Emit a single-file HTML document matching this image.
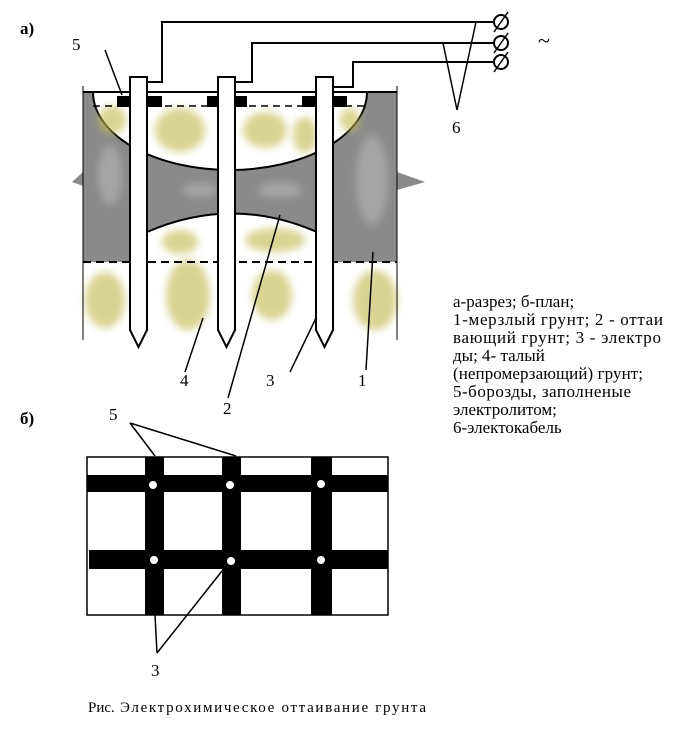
<!DOCTYPE html>
<html><head><meta charset="utf-8"><style>
body{margin:0;background:#fff;}
svg{display:block}
text{font-family:"Liberation Serif","DejaVu Serif",serif;fill:#000}
</style></head><body>
<svg width="695" height="734" viewBox="0 0 695 734" xmlns="http://www.w3.org/2000/svg">
<defs>
<filter id="bl" x="-50%" y="-50%" width="200%" height="200%"><feGaussianBlur stdDeviation="4"/></filter>
</defs>
<text x="20" y="34" font-size="17" font-weight="bold">а)</text>
<text x="20" y="424" font-size="17" font-weight="bold">б)</text>
<rect x="83" y="92" width="314" height="170" fill="#8a8a8a"/>
<polygon points="83,172 72,182 83,186" fill="#8a8a8a"/>
<polygon points="397,172 425,182 397,190" fill="#8a8a8a"/>
<g fill="#a8a8a8" filter="url(#bl)" opacity="0.9">
<ellipse cx="110" cy="175" rx="12" ry="30"/><ellipse cx="372" cy="180" rx="16" ry="45"/>
<ellipse cx="200" cy="190" rx="18" ry="7"/><ellipse cx="280" cy="190" rx="22" ry="8"/>
</g>
<ellipse cx="230" cy="92" rx="137" ry="78" fill="#fff"/>
<rect x="80" y="60" width="330" height="32" fill="#fff"/>
<path d="M147,262 L147,232 Q232,195 317,232 L317,262 Z" fill="#fff"/>
<path d="M147,232 Q232,195 317,232" fill="none" stroke="#000" stroke-width="2"/>
<path d="M93,92 A137 78 0 0 0 367,92" fill="none" stroke="#000" stroke-width="2"/>
<g fill="#c4bd58" filter="url(#bl)" opacity="0.65">
<ellipse cx="112" cy="120" rx="14" ry="14"/>
<ellipse cx="180" cy="130" rx="25" ry="22"/>
<ellipse cx="265" cy="130" rx="22" ry="18"/>
<ellipse cx="305" cy="135" rx="12" ry="18"/>
<ellipse cx="350" cy="120" rx="10" ry="12"/>
<ellipse cx="180" cy="242" rx="18" ry="12"/>
<ellipse cx="275" cy="240" rx="30" ry="12"/>
<ellipse cx="105" cy="300" rx="20" ry="28"/>
<ellipse cx="188" cy="295" rx="22" ry="35"/>
<ellipse cx="272" cy="295" rx="20" ry="25"/>
<ellipse cx="375" cy="300" rx="22" ry="30"/>
</g>
<line x1="83" y1="86" x2="83" y2="340" stroke="#000" stroke-width="1"/>
<line x1="397" y1="86" x2="397" y2="340" stroke="#000" stroke-width="1"/>
<line x1="83" y1="92" x2="397" y2="92" stroke="#000" stroke-width="2"/>
<line x1="83" y1="262" x2="397" y2="262" stroke="#000" stroke-width="2" stroke-dasharray="8,5"/>
<line x1="93" y1="106" x2="367" y2="106" stroke="#000" stroke-width="1.5" stroke-dasharray="7,5"/>
<g fill="#000">
<rect x="117" y="96" width="13" height="11"/><rect x="147" y="96" width="15" height="11"/>
<rect x="207" y="96" width="11" height="11"/><rect x="235" y="96" width="12" height="11"/>
<rect x="302" y="96" width="14" height="11"/><rect x="333" y="96" width="14" height="11"/>
</g>
<g fill="#fff" stroke="#000" stroke-width="2">
<path d="M130,77 H147 V330 L138.5,347 L130,330 Z"/>
<path d="M218,77 H235 V330 L226.5,347 L218,330 Z"/>
<path d="M316,77 H333 V330 L324.5,347 L316,330 Z"/>
</g>
<g fill="none" stroke="#000" stroke-width="2">
<polyline points="147,82 162,82 162,22 494,22"/>
<polyline points="235,82 252,82 252,43 494,43"/>
<polyline points="333,87 353,87 353,62 494,62"/>
<circle cx="501" cy="22" r="7"/><circle cx="501" cy="43" r="7"/><circle cx="501" cy="62" r="7"/>
</g>
<rect x="87" y="457" width="301" height="158" fill="#fff" stroke="#000" stroke-width="1.5"/>
<g fill="#000">
<rect x="87" y="475" width="301" height="17"/><rect x="89" y="550" width="299" height="19"/>
<rect x="145" y="457" width="19" height="158"/><rect x="222" y="457" width="19" height="158"/><rect x="311" y="457" width="21" height="158"/>
</g>
<g fill="#fff">
<circle cx="153" cy="485" r="4"/><circle cx="230" cy="485" r="4"/><circle cx="321" cy="484" r="4"/>
<circle cx="154" cy="560" r="4"/><circle cx="231" cy="561" r="4"/><circle cx="321" cy="560" r="4"/>
</g>
<g stroke="#000" stroke-width="1.5">
<line x1="494" y1="32" x2="508" y2="12"/><line x1="494" y1="53" x2="508" y2="33"/><line x1="494" y1="72" x2="508" y2="52"/>
<line x1="457" y1="110" x2="476" y2="22"/><line x1="457" y1="110" x2="443" y2="43"/>
<line x1="105" y1="50" x2="122" y2="95"/>
<line x1="185" y1="372" x2="203" y2="318"/>
<line x1="228" y1="398" x2="280" y2="215"/>
<line x1="290" y1="372" x2="316" y2="318"/>
<line x1="366" y1="370" x2="373" y2="252"/>
<line x1="130" y1="423" x2="155" y2="456"/><line x1="130" y1="423" x2="236" y2="456"/>
<line x1="157" y1="653" x2="155" y2="615"/><line x1="157" y1="653" x2="222" y2="571"/>
</g>
<text x="538" y="48" font-size="22">~</text>
<text x="72" y="50" font-size="17">5</text>
<text x="452" y="133" font-size="17">6</text>
<text x="180" y="386" font-size="17">4</text>
<text x="223" y="414" font-size="17">2</text>
<text x="266" y="386" font-size="17">3</text>
<text x="358" y="386" font-size="17">1</text>
<text x="109" y="420" font-size="17">5</text>
<text x="151" y="676" font-size="17">3</text>
<g font-size="17">
<text x="453" y="307">а-разрез; б-план;</text>
<text x="453" y="325" textLength="210">1-мерзлый грунт; 2 - оттаи</text>
<text x="453" y="343" textLength="208">вающий грунт; 3 - электро</text>
<text x="453" y="361">ды; 4- талый</text>
<text x="453" y="379" textLength="190">(непромерзающий) грунт;</text>
<text x="453" y="397" textLength="178">5-борозды, заполненые</text>
<text x="453" y="415">электролитом;</text>
<text x="453" y="433">6-электокабель</text>
</g>
<text x="88" y="712" font-size="15" xml:space="preserve">Рис.</text>
<text x="120" y="712" font-size="15" textLength="306">Электрохимическое оттаивание грунта</text>
</svg>
</body></html>
